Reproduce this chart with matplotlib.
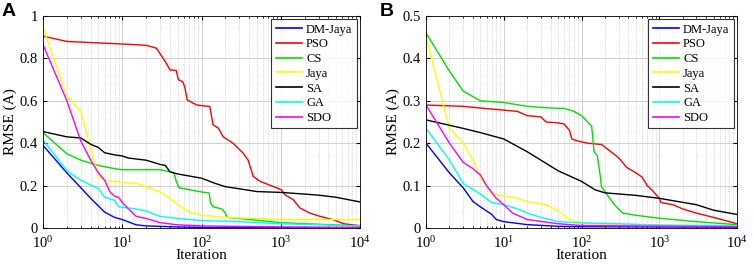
import matplotlib
matplotlib.use("Agg")
import matplotlib.pyplot as plt
from matplotlib.ticker import LogLocator, NullFormatter

names = ["DM-Jaya", "PSO", "CS", "Jaya", "SA", "GA", "SDO"]
colors = ["#0000ff", "#ff0000", "#00e000", "#ffff00", "#000000", "#00ffff", "#ff00ff"]

# panel A (iteration, RMSE)
a_dm_x = [1, 2, 3, 4, 6, 8, 10, 15, 20, 50, 100, 10000]
a_dm_y = [0.39, 0.26, 0.19, 0.14, 0.075, 0.05, 0.04, 0.015, 0.01, 0.005, 0.003, 0.001]
a_pso_x = [1, 2, 10, 20, 27, 36, 40, 48, 51, 58, 62, 66, 87, 127, 140, 163, 188, 250,
           335, 387, 450, 548, 800, 1020, 1130, 1440, 1750, 2330, 3140, 4600, 6200, 10000]
a_pso_y = [0.905, 0.88, 0.868, 0.862, 0.848, 0.777, 0.746, 0.743, 0.70, 0.69, 0.66, 0.604,
           0.58, 0.573, 0.487, 0.471, 0.43, 0.40, 0.353, 0.32, 0.243, 0.22, 0.196, 0.18,
           0.157, 0.133, 0.094, 0.07, 0.055, 0.039, 0.02, 0.011]
a_cs_x = [1, 2, 3, 5, 8, 10, 30, 40, 45, 48, 52, 100, 125, 130, 140, 180, 200, 210, 300, 1000, 10000]
a_cs_y = [0.45, 0.35, 0.32, 0.295, 0.28, 0.275, 0.275, 0.265, 0.26, 0.22, 0.19, 0.17, 0.165,
          0.12, 0.10, 0.09, 0.07, 0.05, 0.045, 0.025, 0.01]
a_jaya_x = [1, 2, 3, 4, 5, 6, 10, 15, 20, 30, 40, 50, 70, 100, 200, 500, 1000, 10000]
a_jaya_y = [0.945, 0.62, 0.55, 0.37, 0.245, 0.225, 0.215, 0.21, 0.195, 0.17, 0.14, 0.11,
            0.075, 0.06, 0.05, 0.045, 0.04, 0.04]
a_sa_x = [1, 2, 3, 4, 5, 6, 8, 10, 12, 20, 30, 35, 40, 50, 100, 150, 200, 300, 500, 1000,
          2000, 3000, 5000, 10000]
a_sa_y = [0.455, 0.43, 0.425, 0.395, 0.38, 0.355, 0.345, 0.34, 0.33, 0.32, 0.30, 0.295,
          0.265, 0.255, 0.235, 0.21, 0.195, 0.185, 0.172, 0.168, 0.16, 0.155, 0.145, 0.123]
a_ga_x = [1, 2, 3, 5, 6, 8, 9, 15, 20, 30, 50, 100, 300, 1000, 10000]
a_ga_y = [0.415, 0.27, 0.225, 0.185, 0.145, 0.13, 0.10, 0.09, 0.08, 0.055, 0.045, 0.035,
          0.03, 0.02, 0.01]
a_sdo_x = [1, 2, 3, 4, 5, 6, 7, 8, 9, 10, 12, 15, 20, 30, 50, 100, 1000, 10000]
a_sdo_y = [0.865, 0.6, 0.41, 0.32, 0.26, 0.225, 0.17, 0.15, 0.145, 0.12, 0.09, 0.055,
           0.045, 0.025, 0.015, 0.01, 0.005, 0.003]

# panel B
b_dm_x = [1, 2, 3, 4, 5, 7, 8, 10, 20, 50, 100, 10000]
b_dm_y = [0.20, 0.13, 0.095, 0.063, 0.05, 0.032, 0.02, 0.015, 0.008, 0.004, 0.003, 0.002]
b_pso_x = [1, 3, 5, 10, 15, 20, 30, 35, 50, 60, 70, 75, 90, 120, 180, 220, 280, 320, 380,
           500, 600, 700, 800, 1000, 1050, 1500, 2000, 3000, 5000, 10000]
b_pso_y = [0.29, 0.287, 0.283, 0.278, 0.275, 0.265, 0.262, 0.25, 0.248, 0.245, 0.23, 0.21,
           0.205, 0.2, 0.197, 0.185, 0.17, 0.16, 0.143, 0.13, 0.12, 0.1, 0.09, 0.07, 0.06,
           0.055, 0.045, 0.035, 0.025, 0.01]
b_cs_x = [1, 2, 3, 4, 5, 10, 20, 40, 60, 80, 100, 120, 135, 145, 160, 175, 180, 230, 280,
          340, 500, 1000, 3000, 10000]
b_cs_y = [0.46, 0.37, 0.323, 0.31, 0.30, 0.296, 0.287, 0.283, 0.282, 0.275, 0.265, 0.25,
          0.24, 0.18, 0.17, 0.12, 0.098, 0.07, 0.05, 0.035, 0.03, 0.023, 0.015, 0.008]
b_jaya_x = [1, 2, 3, 4, 5, 7, 10, 15, 20, 35, 50, 70, 100, 200, 10000]
b_jaya_y = [0.45, 0.235, 0.20, 0.16, 0.12, 0.08, 0.075, 0.07, 0.062, 0.055, 0.04, 0.02,
            0.012, 0.008, 0.005]
b_sa_x = [1, 3, 5, 10, 20, 50, 100, 150, 200, 500, 1000, 3000, 5000, 10000]
b_sa_y = [0.255, 0.235, 0.225, 0.21, 0.18, 0.135, 0.11, 0.09, 0.083, 0.077, 0.07, 0.055,
          0.042, 0.032]
b_ga_x = [1, 2, 3, 5, 7, 10, 15, 20, 30, 50, 100, 300, 1000, 10000]
b_ga_y = [0.235, 0.16, 0.105, 0.08, 0.06, 0.055, 0.045, 0.035, 0.025, 0.015, 0.012, 0.01,
          0.007, 0.005]
b_sdo_x = [1, 2, 3, 4, 5, 6, 8, 10, 13, 20, 50, 100, 10000]
b_sdo_y = [0.29, 0.2, 0.155, 0.14, 0.125, 0.1, 0.07, 0.055, 0.035, 0.02, 0.01, 0.006, 0.003]

panel_a = [(a_dm_x, a_dm_y), (a_pso_x, a_pso_y), (a_cs_x, a_cs_y), (a_jaya_x, a_jaya_y),
           (a_sa_x, a_sa_y), (a_ga_x, a_ga_y), (a_sdo_x, a_sdo_y)]
panel_b = [(b_dm_x, b_dm_y), (b_pso_x, b_pso_y), (b_cs_x, b_cs_y), (b_jaya_x, b_jaya_y),
           (b_sa_x, b_sa_y), (b_ga_x, b_ga_y), (b_sdo_x, b_sdo_y)]

plt.rcParams["font.family"] = ["Liberation Serif", "DejaVu Serif"]
plt.rcParams["mathtext.fontset"] = "stix"

fig = plt.figure(figsize=(7.54, 2.67), dpi=100)
ax_a = fig.add_axes([0.057, 0.146, 0.4205, 0.794])
ax_b = fig.add_axes([0.565, 0.146, 0.4125, 0.794])


def draw_panel(ax, series, ymax, yticks):
    for (xs, ys), name, c in zip(series, names, colors):
        ax.plot(xs, ys, color=c, lw=1.0, label=name)
    ax.set_xscale("log")
    ax.set_xlim(1, 1e4)
    ax.set_ylim(0, ymax)
    ax.set_yticks(yticks)
    ax.set_yticklabels([("%g" % t) for t in yticks])
    ax.xaxis.set_minor_locator(LogLocator(base=10, subs=range(2, 10)))
    ax.xaxis.set_minor_formatter(NullFormatter())
    ax.grid(True, which="major", color="#d0d0d0", lw=0.7)
    ax.grid(True, which="minor", axis="x", color="#b8b8b8", lw=0.5, ls=":")
    ax.tick_params(which="both", direction="in", top=True, right=True, labelsize=10.5)
    ax.tick_params(which="major", length=3)
    ax.tick_params(which="minor", length=1.5)
    ax.tick_params(axis="x", which="major", pad=5)
    for s in ax.spines.values():
        s.set_linewidth(0.6)
    ax.set_xlabel("Iteration", fontsize=11, labelpad=-1)
    ax.set_ylabel("RMSE (A)", fontsize=11, labelpad=2)
    leg = ax.legend(loc="upper right", fontsize=9, frameon=True, fancybox=False,
                    edgecolor="black", borderpad=0.35, labelspacing=0.22,
                    handlelength=2.1, handletextpad=0.35, borderaxespad=0.25)
    leg.get_frame().set_linewidth(0.8)
    for h in leg.get_lines():
        h.set_linewidth(1.2)


draw_panel(ax_a, panel_a, 1.0, [0, 0.2, 0.4, 0.6, 0.8, 1])
draw_panel(ax_b, panel_b, 0.5, [0, 0.1, 0.2, 0.3, 0.4, 0.5])

fig.text(0.002, 0.99, "A", fontsize=14, fontweight="bold", family="Liberation Sans",
         va="top", ha="left")
fig.text(0.503, 0.99, "B", fontsize=14, fontweight="bold", family="Liberation Sans",
         va="top", ha="left")

fig.savefig("out.png", dpi=100)
